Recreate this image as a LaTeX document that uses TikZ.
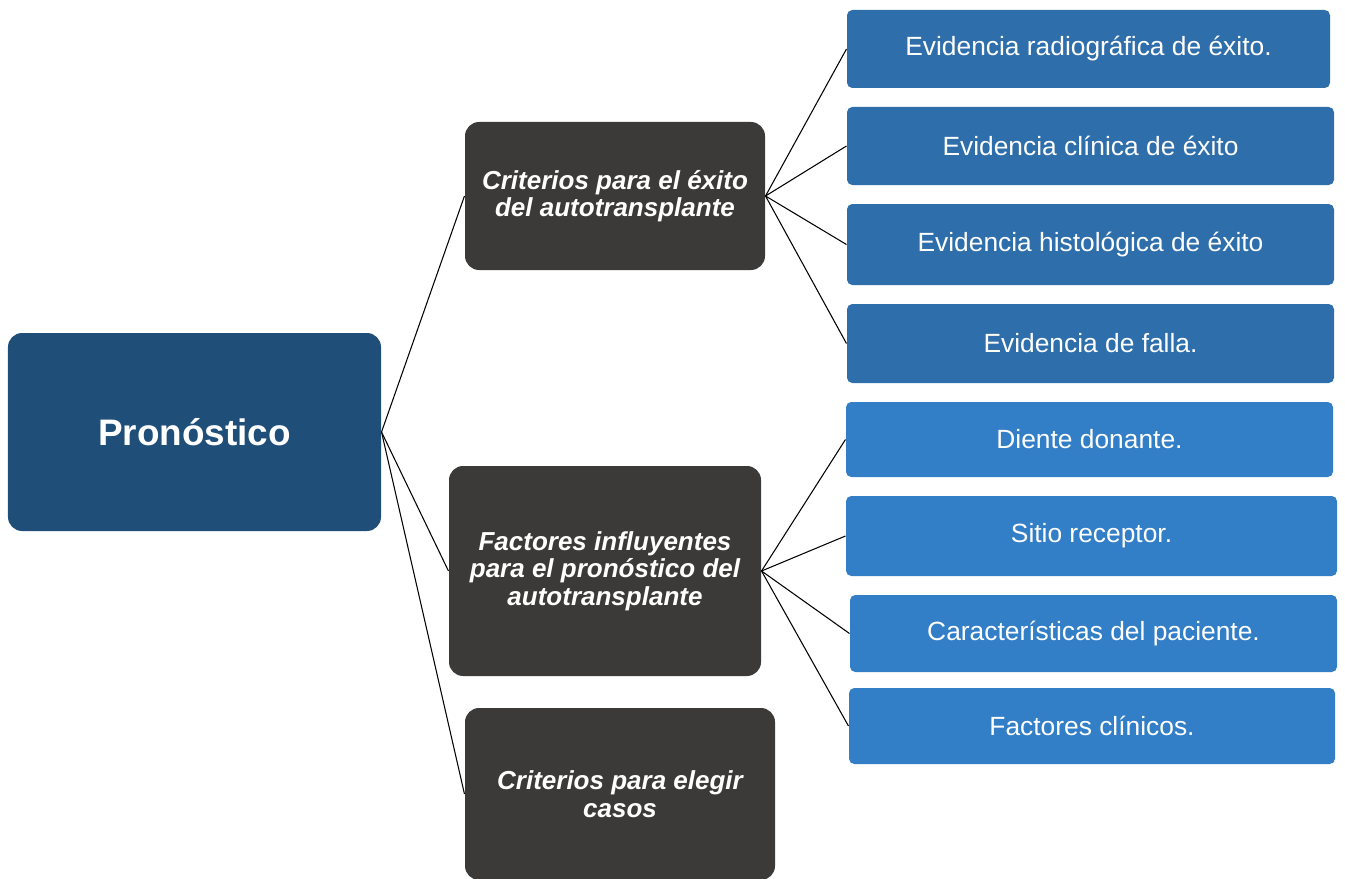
\documentclass[tikz,border=0pt]{standalone}
\usepackage{fontspec}
\setmainfont{Liberation Sans}
\usepackage{tikz}
\usetikzlibrary{positioning}

\definecolor{rootblue}{RGB}{31,78,121}
\definecolor{darkgrey}{RGB}{59,58,56}
\definecolor{midblue}{RGB}{46,110,170}
\definecolor{lightblue}{RGB}{50,126,199}

\begin{document}
\begin{tikzpicture}[line width=0.6pt]
	\tikzstyle{all nodes}=[shape=rectangle]
	\tikzstyle{root}=[fill=rootblue, rounded corners=8pt, text=white,
		font=\fontsize{21}{24}\selectfont\bfseries,
		minimum width=7.46cm, minimum height=3.96cm]
	\tikzstyle{mid}=[fill=darkgrey, rounded corners=8pt, text=white, align=center,
		font=\fontsize{14.8}{15.6}\selectfont\bfseries\itshape]
	\tikzstyle{leaf}=[rounded corners=3pt, text=white,
		font=\fontsize{15}{17}\selectfont]
	\useasboundingbox (0,0) rectangle (26.9,-17.58);
	% % Nodes
	% root
	\node[root](prog) at (3.89,-8.64) {Pron\'ostico};
	% second level
	\node[mid, minimum width=6cm, minimum height=2.96cm](crit)
	at (12.3,-3.92)
	{Criterios para el \'exito\\del autotransplante};
	\node[mid, minimum width=6.24cm, minimum height=4.2cm](fact)
	at (12.1,-11.42)
	{Factores influyentes\\para el pron\'ostico del\\autotransplante};
	\node[mid, minimum width=6.2cm, minimum height=3.44cm](elegir)
	at (12.4,-15.88)
	{Criterios para elegir\\casos};
	% leaves of criterios
	\node[leaf, fill=midblue, minimum width=9.66cm, minimum height=1.56cm](radio)
	at (21.77,-0.98) {Evidencia radiogr\'afica de \'exito.};
	\node[leaf, fill=midblue, minimum width=9.74cm, minimum height=1.56cm](clin)
	at (21.81,-2.92) {Evidencia cl\'inica de \'exito};
	\node[leaf, fill=midblue, minimum width=9.74cm, minimum height=1.62cm](histo)
	at (21.81,-4.89) {Evidencia histol\'ogica de \'exito};
	\node[leaf, fill=midblue, minimum width=9.74cm, minimum height=1.58cm](falla)
	at (21.81,-6.87) {Evidencia de falla.};
	% leaves of factores
	\node[leaf, fill=lightblue, minimum width=9.74cm, minimum height=1.5cm](diente)
	at (21.79,-8.79) {Diente donante.};
	\node[leaf, fill=lightblue, minimum width=9.82cm, minimum height=1.6cm](sitio)
	at (21.83,-10.72) {Sitio receptor.};
	\node[leaf, fill=lightblue, minimum width=9.74cm, minimum height=1.54cm](pac)
	at (21.87,-12.67) {Caracter\'isticas del paciente.};
	\node[leaf, fill=lightblue, minimum width=9.72cm, minimum height=1.52cm](clinf)
	at (21.84,-14.52) {Factores cl\'inicos.};
	% % Connectors
	\draw (prog.east) -- (crit.west);
	\draw (prog.east) -- (fact.west);
	\draw (prog.east) -- (elegir.west);
	\draw (crit.east) -- (radio.west);
	\draw (crit.east) -- (clin.west);
	\draw (crit.east) -- (histo.west);
	\draw (crit.east) -- (falla.west);
	\draw (fact.east) -- (diente.west);
	\draw (fact.east) -- (sitio.west);
	\draw (fact.east) -- (pac.west);
	\draw (fact.east) -- (clinf.west);
\end{tikzpicture}
\end{document}
